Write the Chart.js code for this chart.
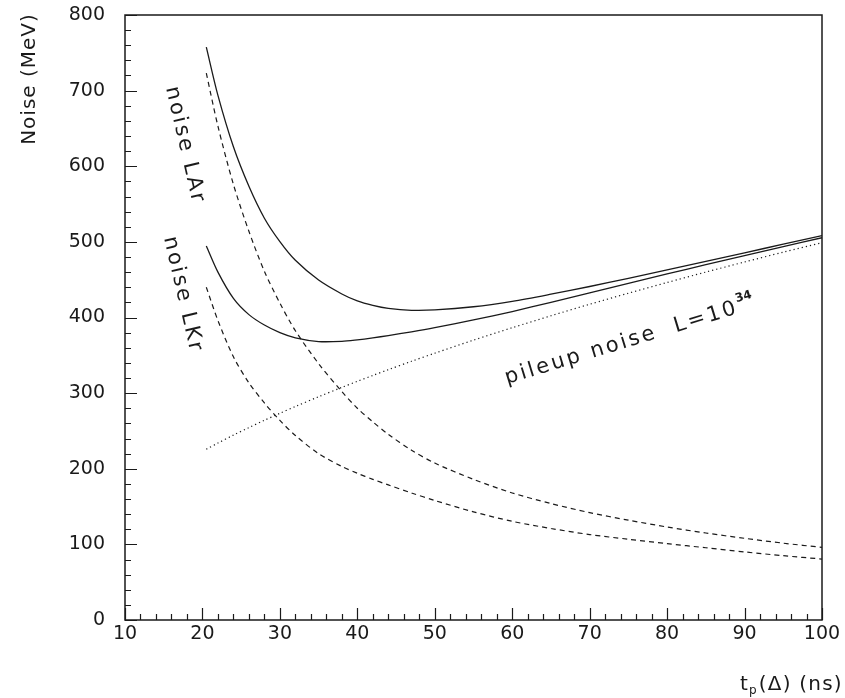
<!DOCTYPE html>
<html>
<head>
<meta charset="utf-8">
<script src="https://cdn.jsdelivr.net/npm/chart.js@4/dist/chart.umd.min.js"></script>
<style>
  html, body { margin: 0; padding: 0; background: #fff; }
  #wrap { width: 845px; height: 698px; }
</style>
</head>
<body>
<div id="wrap"><canvas id="noise-chart" width="845" height="698"></canvas></div>
<script>
// shaping time t_p (ns)
const shapingTimes = [20.5, 22, 24, 26, 28, 30, 32, 35, 38, 40, 42, 44, 47, 50, 55, 60, 65, 70, 75, 80, 85, 90, 95, 100];

// noise in MeV
const larElectronic = [723, 653, 576, 514, 461, 419, 382.5, 339, 302, 280, 262, 245.5, 224.5, 207.5, 186, 168, 154, 142, 132, 123, 115, 108, 101.6, 96];
const lkrElectronic = [440, 396, 348, 313.6, 287, 264, 244, 220, 203, 194, 186, 178.6, 168, 158, 143, 130.5, 121, 113, 106.8, 101, 95.5, 90, 85, 80.6];
const pileupNoise = [225.9, 234, 244.5, 254.4, 264.1, 273.3, 282.3, 295.2, 307.6, 315.6, 323.4, 331.0, 342.1, 352.8, 370.1, 386.5, 402.3, 417.5, 432.1, 446.3, 460.1, 473.4, 486.4, 499];
const larTotal = [757.5, 693.7, 625.7, 573.5, 531.3, 500.3, 475.6, 449.5, 431.1, 421.9, 416.0, 412.0, 409.5, 410.0, 414.2, 421.4, 430.8, 441.0, 451.8, 462.9, 474.3, 485.6, 496.9, 508.2];
const lkrTotal = [494.6, 460.0, 425.3, 403.8, 390.0, 380.0, 373.1, 368.2, 368.5, 370.5, 373.1, 376.1, 381.1, 386.6, 396.8, 407.9, 420.1, 432.5, 445.1, 457.6, 469.9, 481.9, 493.8, 505.5];

const xRange = [10, 100];
const yRange = [0, 800];
const xMajorStep = 10, xMinorStep = 2;
const yMajorStep = 100, yMinorStep = 20;

const FONT = '"DejaVu Sans", "Liberation Sans", sans-serif';
const INK = '#1a1a1a';

function points(ys) {
  return shapingTimes.map((x, i) => ({ x: x, y: ys[i] }));
}

function curve(label, ys, dash, width) {
  return {
    label: label,
    data: points(ys),
    borderColor: INK,
    borderWidth: width || 1.3,
    borderDash: dash || [],
    pointRadius: 0,
    fill: false,
    tension: 0.3
  };
}

// --- frame, inward ticks and text labels ---
const decorations = {
  id: 'decorations',
  afterDraw(chart) {
    const ctx = chart.ctx;
    const area = chart.chartArea;
    const xs = chart.scales.x;
    const ys = chart.scales.y;

    ctx.save();
    ctx.strokeStyle = INK;
    ctx.lineWidth = 1.5;
    ctx.strokeRect(area.left, area.top, area.right - area.left, area.bottom - area.top);

    ctx.lineWidth = 1.2;
    ctx.beginPath();
    for (let v = xRange[0]; v <= xRange[1]; v += xMinorStep) {
      const px = Math.round(xs.getPixelForValue(v)) + 0.5;
      const len = v % xMajorStep === 0 ? 12 : 6;
      ctx.moveTo(px, area.bottom);
      ctx.lineTo(px, area.bottom - len);
    }
    for (let v = yRange[0]; v <= yRange[1]; v += yMinorStep) {
      const py = Math.round(ys.getPixelForValue(v)) + 0.5;
      const len = v % yMajorStep === 0 ? 12 : 6;
      ctx.moveTo(area.left, py);
      ctx.lineTo(area.left + len, py);
    }
    ctx.stroke();

    ctx.fillStyle = INK;
    ctx.textBaseline = 'alphabetic';

    // y axis title
    ctx.save();
    ctx.translate(35, 79);
    ctx.rotate(-Math.PI / 2);
    ctx.font = '20px ' + FONT;
    ctx.letterSpacing = '1px';
    ctx.textAlign = 'center';
    ctx.fillText('Noise (MeV)', 0, 0);
    ctx.restore();

    // x axis title: t_p(Δ) (ns)
    ctx.save();
    ctx.font = '20px ' + FONT;
    ctx.letterSpacing = '1.2px';
    ctx.textAlign = 'left';
    let x0 = 740;
    const by = 690;
    ctx.fillText('t', x0, by);
    x0 += ctx.measureText('t').width;
    ctx.font = '12px ' + FONT;
    ctx.fillText('p', x0, by + 4);
    x0 += ctx.measureText('p').width + 1;
    ctx.font = '20px ' + FONT;
    ctx.fillText('(\u0394) (ns)', x0, by);
    ctx.restore();

    // curve annotations
    const rotated = (text, x, y, deg, size) => {
      ctx.save();
      ctx.translate(x, y);
      ctx.rotate(deg * Math.PI / 180);
      ctx.font = size + 'px ' + FONT;
      ctx.letterSpacing = '2.5px';
      ctx.textAlign = 'left';
      ctx.fillText(text, 0, 0);
      ctx.restore();
    };
    rotated('noise LAr', 166, 88, 77, 21);
    rotated('noise LKr', 164, 238, 77, 21);

    ctx.save();
    ctx.translate(507, 384);
    ctx.rotate(-17 * Math.PI / 180);
    ctx.font = '21px ' + FONT;
    ctx.letterSpacing = '2.6px';
    ctx.textAlign = 'left';
    const main = 'pileup noise  L=10';
    ctx.fillText(main, 0, 0);
    const w = ctx.measureText(main).width;
    ctx.font = 'bold 12px ' + FONT;
    ctx.letterSpacing = '0px';
    ctx.fillText('34', w, -11);
    ctx.restore();

    ctx.restore();
  }
};

new Chart(document.getElementById('noise-chart').getContext('2d'), {
  type: 'line',
  data: {
    datasets: [
      curve('LAr total', larTotal),
      curve('LKr total', lkrTotal),
      curve('LAr electronic', larElectronic, [5, 4], 1.2),
      curve('LKr electronic', lkrElectronic, [5, 4], 1.2),
      curve('pileup L=10^34', pileupNoise, [1.2, 3], 1.2)
    ]
  },
  options: {
    responsive: false,
    animation: false,
    layout: { autoPadding: false, padding: { top: 15, right: 23, left: 0, bottom: 0 } },
    plugins: { legend: { display: false }, tooltip: { enabled: false } },
    scales: {
      x: {
        type: 'linear',
        min: xRange[0],
        max: xRange[1],
        grid: { display: false, drawTicks: false },
        border: { display: false },
        ticks: { stepSize: xMajorStep, padding: 3, color: INK, font: { family: FONT, size: 19 } },
        afterFit(scale) {
          scale.height = 78;
          scale.paddingLeft = 0;
          scale.paddingRight = 0;
        }
      },
      y: {
        type: 'linear',
        min: yRange[0],
        max: yRange[1],
        grid: { display: false, drawTicks: false },
        border: { display: false },
        ticks: { stepSize: yMajorStep, padding: 20, color: INK, font: { family: FONT, size: 19 } },
        afterFit(scale) {
          scale.width = 125;
          scale.paddingTop = 0;
          scale.paddingBottom = 0;
        }
      }
    }
  },
  plugins: [decorations]
});
</script>
</body>
</html>
